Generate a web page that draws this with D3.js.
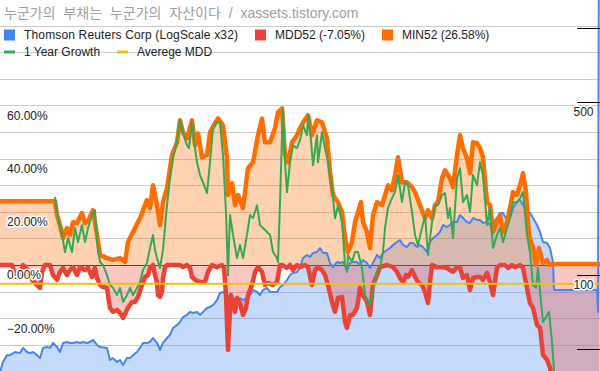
<!DOCTYPE html>
<html><head><meta charset="utf-8">
<script src="https://cdn.jsdelivr.net/npm/d3@7"></script>
<style>body{margin:0;background:#fff}svg{display:block}</style>
</head><body>
<svg id="chart" width="600" height="371"></svg>
<script>
// ---------- data ----------
const titleText = "누군가의 부채는 누군가의 자산이다 / xassets.tistory.com";
const seriesNames = ["Thomson Reuters Corp (LogScale x32)", "MDD52 (-7.05%)", "MIN52 (26.58%)", "1 Year Growth", "Averege MDD"];
const seriesColors = ["#4285f4", "#ea4335", "#ff6d01", "#34a853", "#fbbc04"];

// [week index, price] (right, log axis)
const priceData = [[0,40.5],[3,44.5],[7,47.4],[10,47.4],[15,48.8],[20,48.3],[23,50.7],[27,48.8],[30,48.3],[33,48.8],[37,47.4],[40,46.1],[43,50.7],[47,51.1],[50,50.7],[53,53.1],[57,51.1],[60,48.8],[63,53.1],[67,53.6],[70,53.1],[73,53.1],[77,53.6],[80,53.1],[83,53.6],[87,53.1],[90,53.6],[93,54.6],[97,52.1],[100,51.1],[107,50.7],[110,45.3],[113,46.1],[117,44.5],[120,45.3],[123,43.2],[127,46.1],[130,46.1],[133,47.4],[137,48.8],[140,50.7],[143,53.1],[147,53.1],[150,53.6],[153,55.6],[157,53.1],[160,49.8],[163,53.1],[167,55.6],[170,57.2],[173,61.0],[177,62.8],[180,64.5],[183,67.6],[187,69.0],[190,70.8],[193,70.2],[197,70.8],[200,69.0],[203,70.8],[207,73.5],[210,74.2],[213,75.6],[217,79.2],[220,84.6],[223,85.4],[227,83.0],[230,79.2],[233,80.7],[237,77.7],[240,80.7],[243,79.2],[247,80.7],[250,83.0],[253,87.0],[257,85.4],[260,83.0],[263,87.0],[267,88.6],[270,85.4],[273,85.4],[277,85.4],[280,89.4],[283,91.1],[287,95.4],[290,100],[293,101.9],[297,102.8],[300,107.7],[303,117.2],[307,120.5],[310,118.3],[313,122.8],[317,123.9],[320,128.6],[323,122.8],[327,122.8],[330,111.8],[333,107.7],[337,112.9],[340,111.8],[343,112.9],[347,104.8],[350,111.8],[353,112.9],[357,112.9],[360,109.8],[363,115.0],[367,111.8],[370,106.7],[373,111.8],[377,120.5],[380,117.2],[383,122.8],[387,126.2],[390,128.6],[393,132.3],[397,136.0],[400,138.6],[403,132.3],[407,129.8],[410,134.7],[413,134.7],[417,129.8],[420,132.3],[423,129.8],[427,123.9],[430,136.0],[433,141.1],[437,145.1],[440,149.3],[443,159.3],[447,156.4],[450,159.3],[453,163.9],[457,163.9],[460,174.9],[463,170.1],[467,163.9],[470,162.3],[473,170.1],[477,167.0],[480,167.0],[483,162.3],[487,163.9],[490,159.3],[493,163.9],[497,170.1],[500,178.2],[503,178.2],[507,167.0],[510,170.1],[513,186.7],[517,197.4],[520,201.2],[523,192.0],[527,179.9],[530,178.2],[533,170.1],[537,159.3],[540,149.3],[543,136.0],[547,134.7],[550,128.6],[553,112.9],[554,87.0],[597,87.0],[598,70.8],[599,3000]];

// [week index, %] (left axis)
const mdd52Data = [[0,0],[12,0],[15,-3.8],[20,-4.9],[23,0],[28,-1.9],[32,-5.6],[37,-7.5],[40,-8.6],[42,-2.6],[45,0],[50,0],[53,-3.8],[57,-5.6],[60,-2.6],[63,-1.1],[67,-3.8],[70,-1.9],[73,-0.8],[77,-3.8],[80,-0.8],[85,-1.9],[88,-1.1],[92,-4.5],[95,-1.1],[97,-4.9],[100,-7.5],[103,-8.3],[107,-8.6],[109,-13.9],[110,-16.1],[113,-17.6],[117,-16.9],[120,-18.0],[123,-19.9],[126,-17.6],[128,-16.1],[132,-13.9],[135,-13.9],[138,-12.0],[142,-7.5],[145,-4.5],[148,-3.8],[150,-1.1],[153,0],[155,-3.8],[157,-6.4],[158,-11.3],[160,-12.0],[162,-10.1],[163,-4.9],[165,-0.8],[167,0],[180,0],[183,-0.8],[187,0],[190,-1.1],[192,-4.5],[195,-5.6],[200,-6.4],[205,-6.4],[208,-2.6],[212,0],[217,-0.8],[222,0],[224,-1.1],[226,-11.3],[228,-31.9],[229,-23.6],[231,-11.3],[233,-13.9],[235,-17.6],[237,-12.4],[240,-14.3],[243,-18.8],[246,-16.1],[248,-11.3],[252,-7.5],[255,-2.6],[258,-0.8],[262,-2.6],[265,-7.5],[268,-6.8],[273,-7.5],[277,-6.4],[280,0],[282,0],[287,-1.1],[290,0],[293,-1.9],[297,0],[300,-0.8],[305,0],[308,-0.8],[312,-7.5],[315,-1.9],[318,-0.8],[322,-1.9],[325,-3.8],[328,-7.5],[332,-13.9],[335,-17.6],[338,-12.4],[342,-12.0],[345,-21.4],[347,-23.6],[350,-18.8],[353,-18.8],[357,-16.1],[360,-8.6],[363,-11.3],[367,-13.9],[370,-18.8],[373,-7.5],[377,-3.8],[380,-0.8],[387,0],[393,-0.8],[397,-2.6],[400,-4.9],[403,-6.4],[406,-3.8],[408,-4.5],[412,-1.9],[415,-4.5],[418,-6.4],[422,-7.5],[425,-10.1],[428,-14.3],[430,-6.4],[432,0],[437,-0.8],[442,-0.8],[447,-1.1],[450,-1.9],[453,-2.6],[457,-0.8],[460,-1.1],[463,-4.9],[467,-3.8],[470,-9.4],[473,-4.9],[477,-4.5],[480,-4.5],[483,-5.6],[487,-3.0],[490,-6.4],[493,-11.3],[497,-1.1],[500,0],[505,0],[508,-1.1],[512,0],[515,-0.8],[520,0],[523,-1.1],[527,-8.6],[530,-14.3],[533,-16.1],[537,-22.5],[540,-23.6],[543,-33.8],[547,-35.6],[550,-38.6],[553,-45],[600,-45]];

const min52Data = [[0,24.0],[55,24.0],[57,18.8],[60,15.0],[63,10.1],[67,13.9],[70,11.3],[73,16.1],[77,15.8],[82,19.5],[85,15.8],[88,16.5],[93,20.6],[97,11.3],[100,3.8],[107,2.6],[113,1.9],[120,2.6],[125,1.1],[128,8.6],[133,12.4],[140,17.6],[145,22.5],[147,24.4],[150,21.4],[153,30.0],[157,22.5],[160,15.0],[163,23.6],[167,28.9],[172,41.3],[177,46.1],[180,54.4],[183,49.9],[187,47.6],[192,54.4],[195,45.0],[198,49.5],[202,40.5],[207,41.3],[210,49.9],[215,53.3],[218,55.1],[223,52.5],[227,40.1],[228,26.3],[232,30.8],[235,22.5],[238,26.3],[243,21.4],[248,36.4],[253,38.6],[258,48.8],[262,55.1],[265,46.1],[270,46.1],[275,51.4],[278,57.4],[282,58.9],[285,41.3],[288,38.6],[292,46.1],[297,48.8],[300,51.4],[303,53.6],[308,56.3],[312,48.8],[317,54.4],[322,53.6],[327,47.6],[330,34.9],[333,26.3],[338,23.6],[342,19.9],[345,10.1],[348,4.9],[352,8.6],[355,16.1],[358,19.9],[361,23.6],[363,16.1],[367,12.4],[370,6.4],[373,18.8],[377,23.6],[382,22.5],[385,26.3],[388,30.0],[392,28.1],[395,33.8],[398,40.5],[402,31.1],[407,31.1],[412,29.3],[415,27.4],[420,22.5],[425,17.6],[428,20.6],[432,17.6],[435,22.5],[438,23.6],[442,32.6],[445,35.6],[450,32.6],[453,29.3],[457,41.3],[460,48.8],[463,43.9],[467,40.1],[470,34.5],[473,46.1],[477,45.8],[480,43.9],[483,40.5],[487,23.6],[490,22.5],[493,12.4],[497,16.1],[500,18.8],[503,12.4],[507,16.1],[510,21.4],[513,27.4],[517,26.3],[520,30.0],[523,34.5],[526,27.4],[529,11.3],[533,6.4],[536,0],[539,6.4],[543,0.8],[547,1.9],[550,0],[553,0.4],[600,0.4]];

const growthData = [[55,25.5],[58,17.6],[62,11.3],[65,4.9],[68,10.1],[72,4.9],[75,13.9],[78,8.6],[82,15.0],[85,8.6],[88,13.9],[92,18.8],[95,20.6],[97,8.6],[100,1.1],[103,0],[107,-3.8],[110,-7.5],[113,-8.6],[117,-11.3],[120,-8.6],[123,-13.9],[127,-11.3],[130,-8.6],[133,-11.3],[137,-8.6],[140,-6.4],[143,-1.9],[147,0.8],[150,6.4],[153,11.3],[155,5.6],[157,2.6],[160,-1.1],[163,5.6],[167,22.5],[170,32.6],[173,40.1],[177,46.9],[180,54.4],[183,49.5],[187,45.0],[189,43.9],[192,53.6],[195,43.9],[197,38.6],[200,33.8],[203,31.1],[207,27.0],[210,38.6],[213,51.4],[217,53.6],[220,53.6],[223,41.3],[226,19.9],[228,-3.8],[230,18.8],[233,11.3],[237,2.6],[240,7.5],[243,2.6],[247,11.3],[250,18.8],[253,17.6],[257,22.5],[260,15.0],[263,13.9],[267,12.4],[270,11.3],[273,4.9],[277,2.6],[278,1.1],[280,23.6],[282,48.8],[283,58.9],[285,38.6],[287,27.4],[290,38.6],[293,45.0],[297,43.9],[300,46.9],[303,52.5],[307,48.8],[308,56.3],[311,46.9],[313,37.5],[317,48.8],[318,38.6],[322,49.9],[325,43.9],[328,38.6],[332,28.9],[335,17.6],[338,22.5],[342,16.1],[343,11.3],[345,0],[347,-2.6],[348,3.8],[352,1.1],[355,4.9],[358,4.9],[362,-1.1],[365,-11.3],[370,-15.0],[373,-10.1],[377,-2.6],[380,-1.1],[383,4.9],[385,13.9],[388,21.4],[392,25.1],[395,27.4],[398,33.8],[402,23.6],[405,31.1],[408,30.0],[412,19.9],[415,11.3],[418,7.5],[422,13.9],[425,18.8],[428,3.8],[432,16.1],[435,22.5],[438,22.5],[442,26.3],[445,27.0],[448,17.6],[450,21.4],[453,10.1],[457,32.6],[460,36.4],[463,23.6],[467,26.3],[470,19.9],[473,33.8],[477,30.0],[480,38.6],[483,33.8],[487,15.0],[490,21.4],[493,6.4],[497,11.3],[500,13.9],[503,8.6],[507,13.9],[510,17.6],[513,23.6],[517,23.6],[520,25.1],[523,27.4],[527,11.3],[530,4.9],[533,-7.5],[536,-8.6],[538,-1.1],[541,-13.9],[543,-21.4],[547,-18.8],[549,-17.6],[552,-28.9],[555,-45],[600,-45]];

const averageMdd = -7.05;
const leftGridTicks = [-30,-20,-10,0,10,20,30,40,50,60,70,80,90];
const leftLabelTicks = [60,40,20,0,-20];
const rightTicks = [50,100,500,1000];
const rightLabelTicks = [500,100];

// ---------- drawing ----------
const W = 600, H = 371;
const svg = d3.select("#chart");
const FONT = "Arial, 'Liberation Sans', 'Noto Sans CJK KR', sans-serif";

const x = d3.scaleLinear().domain([0, 600]).range([0, 600]);
const yL = d3.scaleLinear().domain([-40, 100]).range([371.4, -1]);
const yR = d3.scaleLog().domain([50, 1000]).range([349.4, 27.9]);

svg.append("defs").append("clipPath").attr("id","clip")
  .append("rect").attr("x",0).attr("y",0).attr("width",W).attr("height",H);

const crisp = v => Math.round(v) + 0.5;

// gridlines
svg.append("g").selectAll("line").data(leftGridTicks.filter(d => d !== 0)).join("line")
  .attr("x1", 0).attr("x2", W)
  .attr("y1", d => crisp(yL(d))).attr("y2", d => crisp(yL(d)))
  .attr("stroke", "#cccccc").attr("stroke-width", 1);
// zero baseline
svg.append("line").attr("x1",0).attr("x2",W)
  .attr("y1", crisp(yL(0))).attr("y2", crisp(yL(0)))
  .attr("stroke", "#333333").attr("stroke-width", 1);

const plot = svg.append("g").attr("clip-path", "url(#clip)");

// areas
plot.append("path").datum(priceData)
  .attr("d", d3.area().x(d => x(d[0])).y0(H + 5).y1(d => yR(d[1])))
  .attr("fill", seriesColors[0]).attr("fill-opacity", 0.3);
plot.append("path").datum(mdd52Data)
  .attr("d", d3.area().x(d => x(d[0])).y0(yL(0)).y1(d => yL(d[1])))
  .attr("fill", seriesColors[1]).attr("fill-opacity", 0.3);
plot.append("path").datum(min52Data)
  .attr("d", d3.area().x(d => x(d[0])).y0(yL(0)).y1(d => yL(d[1])))
  .attr("fill", seriesColors[2]).attr("fill-opacity", 0.3);

// lines
const lineR = d3.line().x(d => x(d[0])).y(d => yR(d[1]));
const lineL = d3.line().x(d => x(d[0])).y(d => yL(d[1]));
plot.append("path").datum(priceData).attr("d", lineR)
  .attr("fill","none").attr("stroke", seriesColors[0]).attr("stroke-width", 2).attr("stroke-linejoin","round");
plot.append("path").datum(mdd52Data).attr("d", lineL)
  .attr("fill","none").attr("stroke", seriesColors[1]).attr("stroke-width", 4.5).attr("stroke-linejoin","round");
plot.append("path").datum(min52Data).attr("d", lineL)
  .attr("fill","none").attr("stroke", seriesColors[2]).attr("stroke-width", 4.5).attr("stroke-linejoin","round");
plot.append("path").datum(growthData).attr("d", lineL)
  .attr("fill","none").attr("stroke", seriesColors[3]).attr("stroke-width", 2).attr("stroke-linejoin","round");
plot.append("line").attr("x1", 0).attr("x2", W)
  .attr("y1", yL(averageMdd)).attr("y2", yL(averageMdd))
  .attr("stroke", seriesColors[4]).attr("stroke-width", 2);

// right axis ticks
svg.append("g").selectAll("line").data(rightTicks).join("line")
  .attr("x1", 577).attr("x2", W)
  .attr("y1", d => crisp(yR(d))).attr("y2", d => crisp(yR(d)))
  .attr("stroke", "#000").attr("stroke-width", 1);

// axis labels (with white halo)
function halo(sel){
  sel.attr("font-family", FONT).attr("font-size", 12).attr("fill", "#222")
     .attr("stroke", "#fff").attr("stroke-width", 3).attr("stroke-linejoin","round")
     .attr("paint-order", "stroke");
}
svg.append("g").selectAll("text").data(leftLabelTicks).join("text")
  .attr("x", 7).attr("y", d => yL(d) + 14.3)
  .text(d => d3.format(".2f")(d) + "%").call(halo);
svg.append("g").selectAll("text").data(rightLabelTicks).join("text")
  .attr("x", 593.5).attr("y", d => yR(d) + 13.5).attr("text-anchor", "end")
  .text(d => d).call(halo);

// title
svg.append("text").attr("x", 4).attr("y", 17.5)
  .attr("font-family", FONT).attr("font-size", 14).attr("fill", "#a0a0a0")
  .attr("word-spacing", 4)
  .text(titleText);

// legend
const legendItems = [
  {i:0, type:"box", x:4, y:38.5},
  {i:1, type:"box", x:255, y:38.5},
  {i:2, type:"box", x:382, y:38.5},
  {i:3, type:"line", x:4, y:55.5},
  {i:4, type:"line", x:117, y:55.5}
];
const lg = svg.append("g");
legendItems.forEach(it => {
  if (it.type === "box") {
    lg.append("rect").attr("x", it.x).attr("y", it.y - 9).attr("width", 11).attr("height", 11)
      .attr("fill", seriesColors[it.i]);
  } else {
    lg.append("rect").attr("x", it.x).attr("y", it.y - 5).attr("width", 11).attr("height", 3)
      .attr("fill", seriesColors[it.i]);
  }
  const t = lg.append("text").attr("x", it.x + 20).attr("y", it.y)
    .attr("font-family", FONT).attr("font-size", 12).attr("fill", "#222")
    .text(seriesNames[it.i]);
  if (it.i === 0) t.attr("textLength", 214).attr("lengthAdjust", "spacing");
});
</script>
</body></html>
